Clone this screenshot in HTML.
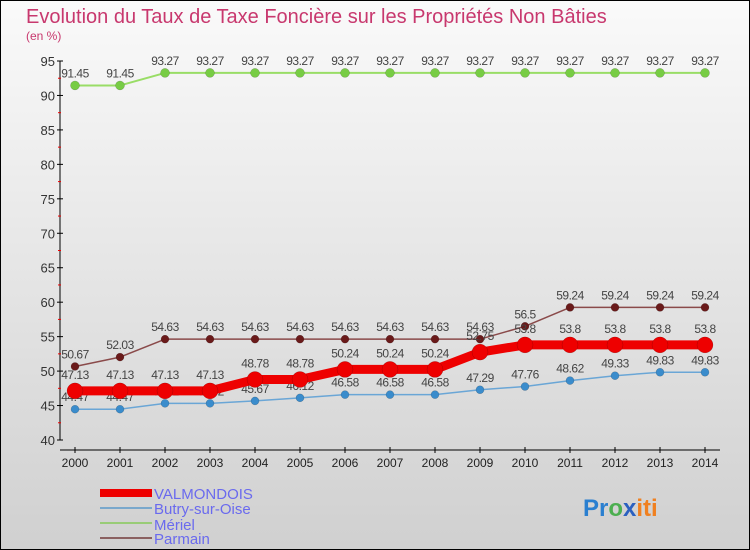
<!DOCTYPE html>
<html><head><meta charset="utf-8"><style>
body{margin:0}
#c{width:750px;height:550px;position:relative;overflow:hidden;font-family:"Liberation Sans",sans-serif}
</style></head><body>
<div id="c">
<svg id="s" width="750" height="550" xmlns="http://www.w3.org/2000/svg">
<defs><linearGradient id="bg" x1="0" y1="0" x2="0" y2="1"><stop offset="0" stop-color="#fafafa"/><stop offset="1" stop-color="#d0d0d0"/></linearGradient></defs>
<rect x="0.5" y="0.5" width="749" height="549" fill="url(#bg)" stroke="#000"/>
<text x="26" y="23" font-size="20" fill="#c8386e">Evolution du Taux de Taxe Foncière sur les Propriétés Non Bâties</text>
<text x="26" y="40" font-size="12" fill="#c8386e">(en %)</text>
<g id="axes"></g><g id="series"></g>
<g>
<rect x="100" y="489" width="52" height="8" fill="#e00"/>
<text x="154" y="499" font-size="15" fill="#6a6aee">VALMONDOIS</text>
<rect x="100" y="507" width="52" height="2" fill="#7aa8cc"/>
<text x="154" y="514" font-size="15" fill="#6a6aee">Butry-sur-Oise</text>
<rect x="100" y="522" width="52" height="2" fill="#99cc77"/>
<text x="154" y="530" font-size="15" fill="#6a6aee">Mériel</text>
<rect x="100" y="537" width="52" height="2" fill="#8a6060"/>
<text x="154" y="544" font-size="15" fill="#6a6aee">Parmain</text>
</g>
<text x="583" y="516" font-size="24" font-weight="bold"><tspan fill="#2a7fd0">Pr</tspan><tspan fill="#4caf50">o</tspan><tspan fill="#2a60c0">x</tspan><tspan fill="#f08020">iti</tspan></text>
</svg></div>
<script>
const years=[2000,2001,2002,2003,2004,2005,2006,2007,2008,2009,2010,2011,2012,2013,2014];
const yTicks=[40,45,50,55,60,65,70,75,80,85,90,95];
const valmondois=[47.13,47.13,47.13,47.13,48.78,48.78,50.24,50.24,50.24,52.75,53.8,53.8,53.8,53.8,53.8];
const butry=[44.47,44.47,45.32,45.32,45.67,46.12,46.58,46.58,46.58,47.29,47.76,48.62,49.33,49.83,49.83];
const meriel=[91.45,91.45,93.27,93.27,93.27,93.27,93.27,93.27,93.27,93.27,93.27,93.27,93.27,93.27,93.27];
const parmain=[50.67,52.03,54.63,54.63,54.63,54.63,54.63,54.63,54.63,54.63,56.5,59.24,59.24,59.24,59.24];
const NS="http://www.w3.org/2000/svg";
const xS=i=>75+i*45;
const yS=v=>440-(v-40)*(379/55);
function mk(t,a,p){const e=document.createElementNS(NS,t);for(const k in a)e.setAttribute(k,a[k]);p.appendChild(e);return e;}
const ax=document.getElementById('axes');
let l=mk('line',{x1:60,y1:61,x2:60,y2:440,stroke:'#000'},ax);


l=mk('line',{x1:60,y1:450,x2:720,y2:450,stroke:'#000'},ax);


yTicks.forEach(v=>{
 const y=yS(v);
 mk('line',{x1:57,y1:y,x2:63,y2:y,stroke:'#000'},ax);
 if(v<95)mk('line',{x1:58,y1:yS(v+2.5),x2:61,y2:yS(v+2.5),stroke:'#e00'},ax);
 const t=mk('text',{x:55,y:y+5,'font-size':13,fill:'#333','text-anchor':'end'},ax);
 t.textContent=v;
 
 
});
years.forEach((yr,i)=>{
 mk('line',{x1:xS(i),y1:447,x2:xS(i),y2:453,stroke:'#000'},ax);
 const t=mk('text',{x:xS(i),y:467,'font-size':12,fill:'#222','text-anchor':'middle'},ax);
 t.textContent=yr;
 
 
});
const sg=document.getElementById('series');
function draw(name,data,color,dot,w,r,dy){
 const g=mk('g',{},sg);
 
 
 const p=mk('polyline',{points:data.map((v,i)=>xS(i)+','+yS(v)).join(' '),fill:'none',stroke:color,'stroke-width':w,'stroke-linejoin':'round'},g);
 
 
 data.forEach((v,i)=>{
  const c=mk('circle',{cx:xS(i),cy:yS(v),r:r,fill:dot,stroke:'#0004','stroke-width':0.5},g);
  
  
  const t=mk('text',{x:xS(i),y:yS(v)-dy,'font-size':12,fill:'#444','text-anchor':'middle','letter-spacing':'-0.5'},g);
  t.textContent=v;
  
  
 });
}
draw('meriel',meriel,'#99dd66','#77cc44',2,4.5,8);
draw('parmain',parmain,'#8a4a4a','#6a1a1a',1.5,4,8);
draw('butry',butry,'#6aa6d6','#3a8ccc',1.5,4,8);
draw('valmondois',valmondois,'#ee0000','#ee0000',9,8,12);
</script>
</body></html>
